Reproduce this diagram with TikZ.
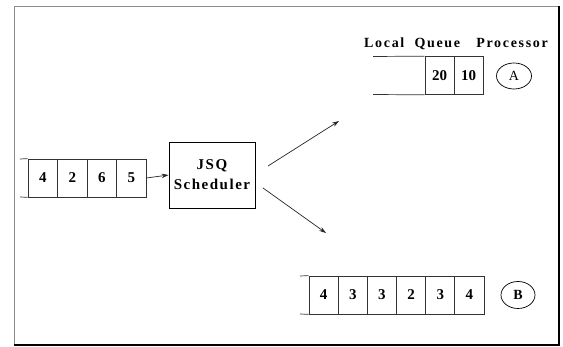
\documentclass[tikz,border=0pt]{standalone}
\usepackage{fontspec}
\setmainfont{Liberation Serif}
\newfontfamily\spacedfont[LetterSpace=12]{Liberation Serif}
\newfontfamily\widefont[LetterSpace=10]{Liberation Serif}
\usetikzlibrary{arrows.meta,shapes.geometric}
\begin{document}
\begin{tikzpicture}[x=1pt,y=-1pt,
  qline/.style={draw=black!80,line width=0.7pt},
  cell/.style={draw=black!80,line width=0.7pt,minimum height=38pt,inner sep=0pt,
    font=\fontsize{15}{15}\selectfont\bfseries},
  proc/.style={draw=black,ellipse,line width=0.7pt,inner sep=0pt,minimum width=35pt,minimum height=26pt,
    font=\fontsize{14}{14}\selectfont},
  arr/.style={draw=black!85,line width=0.7pt,-{Stealth[length=7pt,width=4.5pt]}},
  lbl/.style={font=\fontsize{14}{14}\spacedfont\bfseries,inner sep=0pt}]
\useasboundingbox (0,0) rectangle (563,347);
% frame
\draw[black!45,line width=0.6pt] (14,345) -- (14,6) -- (559,6);
\draw[black,line width=1.6pt] (559,6) -- (559,345) -- (14,345);

% input queue
\foreach \i/\v [count=\k from 0] in {1/4,2/2,3/6,4/5}
  \node[cell,minimum width=29.5pt] (in\i) at (42.75+29.5*\k,178) {\v};
\draw[qline] (20,159) -- (in1.north west);
\draw[qline] (20,197) -- (in1.south west);

% scheduler
\node[draw=black,line width=0.8pt,minimum width=86pt,minimum height=66pt,inner sep=0pt,
  align=center,font=\fontsize{15}{20}\widefont\bfseries] (jsq) at (212,175) {JSQ\\Scheduler};
\draw[arr] (in4.east) -- (jsq.west);

% label
\node[lbl,anchor=west] (lab) at (364,44) {Local\hspace{5pt} Queue\hspace{11pt} Processor};

% queue A
\node[cell,minimum width=29pt] (a1) at (439.5,75.5) {20};
\node[cell,minimum width=29pt] (a2) at (468.5,75.5) {10};
\draw[qline] (373,56.5) -- (a1.north west);
\draw[qline] (373,94.5) -- (a1.south west);
\node[proc] (pa) at (514,76) {A};

% queue B
\foreach \i/\v [count=\k from 0] in {1/4,2/3,3/3,4/2,5/3,6/4}
  \node[cell,minimum width=29.17pt] (b\i) at (323.58+29.17*\k,295) {\v};
\draw[qline] (300,276) -- (b1.north west);
\draw[qline] (300,314) -- (b1.south west);
\node[proc,font=\fontsize{14}{14}\selectfont\bfseries,minimum width=34pt,minimum height=27pt] (pb) at (518,295) {B};

% dispatch arrows
\coordinate (u0) at (268,166);
\coordinate (u1) at (339,121);
\coordinate (d0) at (263,188);
\coordinate (d1) at (326,233);
\draw[arr] (u0) -- (u1);
\draw[arr] (d0) -- (d1);
\end{tikzpicture}
\end{document}
